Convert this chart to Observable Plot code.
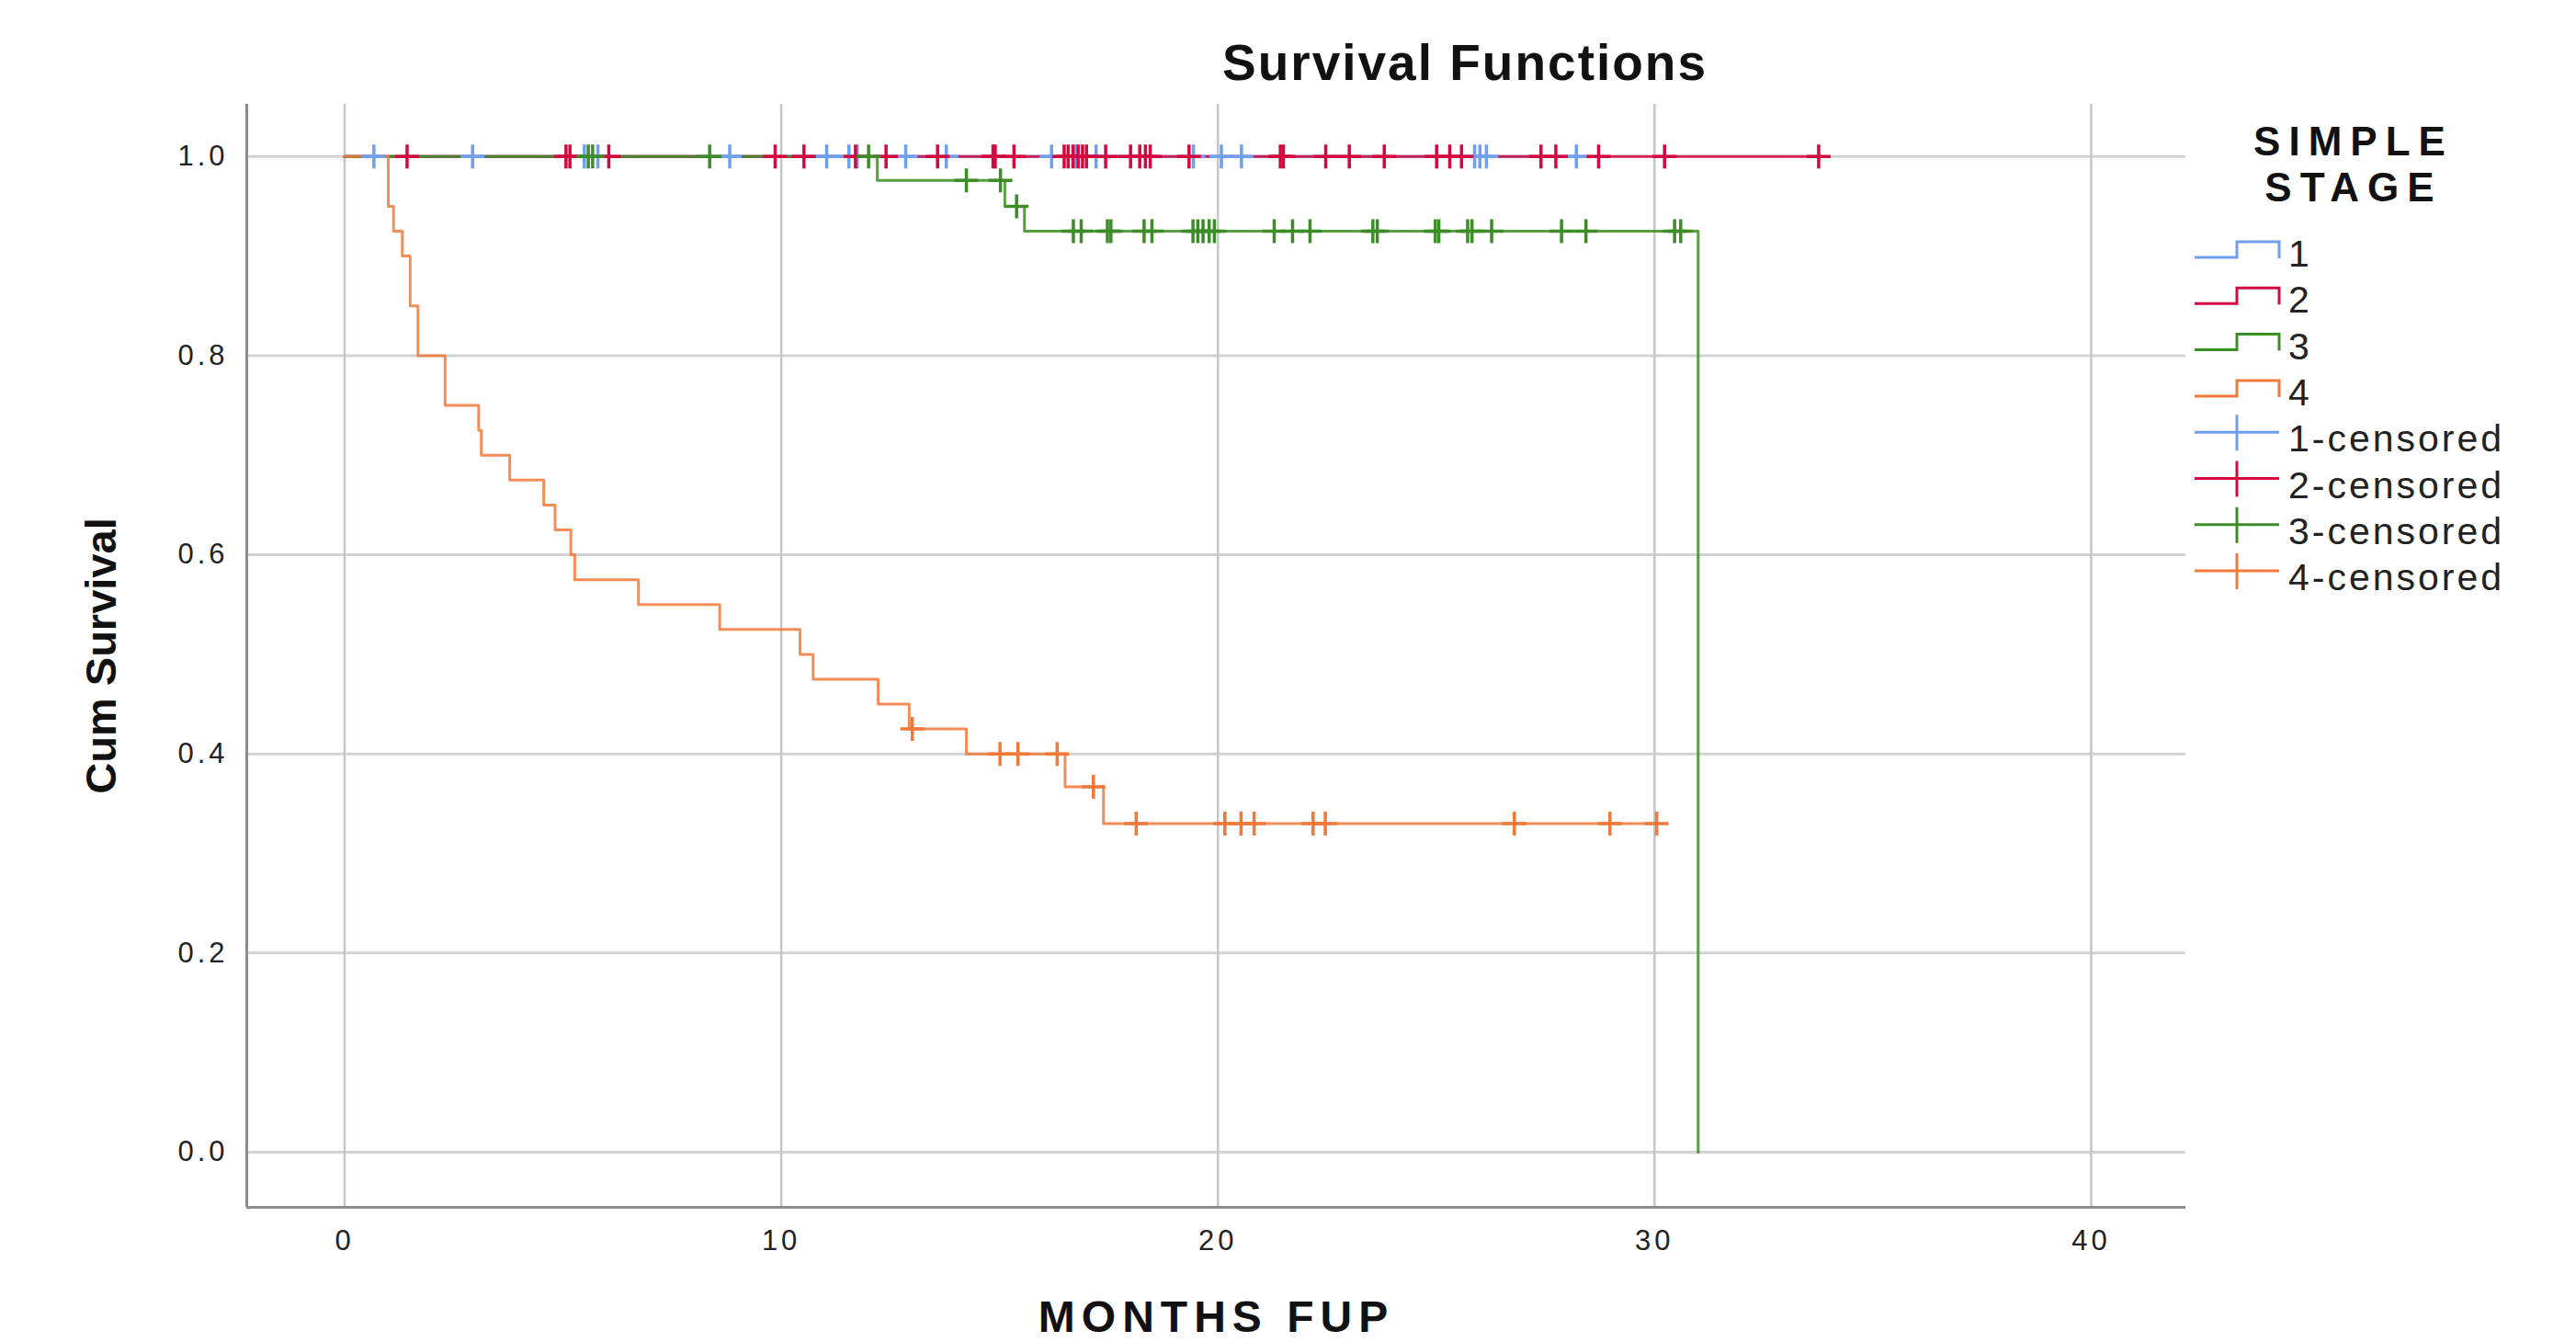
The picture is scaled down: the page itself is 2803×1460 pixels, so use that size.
<!DOCTYPE html>
<html><head><meta charset="utf-8">
<script src="https://cdn.jsdelivr.net/npm/d3@7"></script>
<script src="https://cdn.jsdelivr.net/npm/@observablehq/plot@0.6"></script>
<style>
html,body{margin:0;padding:0;background:#fff;}
#page{width:2803px;height:1460px;position:relative;overflow:hidden;font-family:"Liberation Sans",Arial,sans-serif;background:#fff;}
#title{height:110px;position:relative;}
#title span{position:absolute;left:1594px;top:41px;transform:translateX(-50%);font-size:55px;font-weight:bold;line-height:55px;letter-spacing:2px;white-space:nowrap;color:#111;}
#row{display:flex;}
#chart{flex:none;width:2380px;}
#legend{flex:none;width:423px;}
</style></head><body>
<div id="page">
  <div id="title"><span id="titleText"></span></div>
  <div id="row"><div id="chart"></div><div id="legend"></div></div>
</div>
<script>
// ---- text ----
const chartTitle = "Survival Functions";
const xLabel = "MONTHS FUP";
const yLabel = "Cum Survival";
const legendTitle = ["SIMPLE", "STAGE"];

// ---- axes ----
const xTicks = [0, 10, 20, 30, 40];
const yTicks = [0, 0.2, 0.4, 0.6, 0.8, 1.0];
const xDomain = [-2.242, 42.17];
const yDomain = [-0.0554, 1.0524];

// ---- series ----
const stages = ["1", "2", "3", "4"];
const stageColors = ["#6e9ff0", "#d3083f", "#3c8d27", "#f0793a"];

// stage 1 (no events)
const stage1Times = [0, 28.21];
const stage1Surv = [1.0, 1.0];
const stage1Censored = [0.67, 2.93, 5.49, 5.80, 8.82, 11.04, 11.55, 11.74, 12.85, 13.78, 16.19, 16.74, 17.21, 19.44, 20.08, 20.54, 25.88, 26.0, 26.15, 28.21];

// stage 2 (no events)
const stage2Times = [0, 33.76];
const stage2Surv = [1.0, 1.0];
const stage2Censored = [1.43, 5.07, 5.16, 6.05, 9.86, 10.52, 11.70, 12.40, 13.58, 14.85, 14.90, 15.33, 16.48, 16.57, 16.68, 16.80, 16.90, 16.99, 17.43, 18.0, 18.21, 18.34, 18.45, 19.34, 21.43, 21.50, 22.47, 23.01, 23.81, 25.01, 25.31, 25.58, 27.40, 27.74, 28.72, 30.23, 33.76];

// stage 3
const stage3Times = [0, 12.2, 15.12, 15.57, 31.0];
const stage3Surv = [1.0, 0.976, 0.950, 0.925, 0.0];
const stage3Censored = [5.58, 5.68, 8.36, 12.0, 14.24, 15.02, 15.39, 16.69, 16.87, 17.47, 17.55, 18.31, 18.49, 19.43, 19.54, 19.66, 19.80, 19.92, 21.29, 21.71, 22.11, 23.55, 23.65, 24.98, 25.06, 25.72, 25.82, 26.27, 27.87, 28.43, 30.46, 30.60];

// stage 4
const stage4Times = [0, 1.0, 1.12, 1.32, 1.50, 1.68, 2.30, 3.07, 3.13, 3.78, 4.56, 4.82, 5.18, 5.27, 6.73, 8.59, 10.43, 10.73, 12.22, 12.93, 14.24, 16.50, 17.38, 30.05];
const stage4Surv = [1.0, 0.95, 0.925, 0.90, 0.85, 0.80, 0.75, 0.725, 0.70, 0.675, 0.65, 0.625, 0.60, 0.575, 0.55, 0.525, 0.50, 0.475, 0.45, 0.425, 0.40, 0.367, 0.330, 0.330];
const stage4Censored = [13.0, 15.01, 15.42, 16.32, 17.15, 18.13, 20.16, 20.53, 20.83, 22.18, 22.46, 26.79, 28.98, 30.05];

const curveTimes = [stage1Times, stage2Times, stage3Times, stage4Times];
const curveSurv = [stage1Surv, stage2Surv, stage3Surv, stage4Surv];
const censoredTimes = [stage1Censored, stage2Censored, stage3Censored, stage4Censored];

function survAt(times, surv, t) {
  let v = surv[0];
  for (let i = 0; i < times.length; i++) if (times[i] <= t) v = surv[i];
  return v;
}

// censor mark: a plus sign
const censorSymbol = {
  draw(context, size) {
    const a = Math.sqrt(size / Math.PI);
    context.moveTo(-a, 0); context.lineTo(a, 0);
    context.moveTo(0, -a); context.lineTo(0, a);
  }
};

const fontFamily = "Liberation Sans, Arial, sans-serif";

const lineMarks = stages.map((s, i) =>
  Plot.line(curveTimes[i], {
    x: curveTimes[i], y: curveSurv[i], curve: "step-after",
    stroke: stageColors[i], strokeWidth: 3, strokeOpacity: 0.85
  })
);
const censorMarks = stages.map((s, i) =>
  Plot.dot(censoredTimes[i], {
    x: d => d, y: d => survAt(curveTimes[i], curveSurv[i], d),
    symbol: censorSymbol, r: 13, stroke: stageColors[i], fill: "none", strokeWidth: 3.5
  })
);

const chart = Plot.plot({
  width: 2380, height: 1350,
  marginLeft: 268, marginRight: 2, marginTop: 3, marginBottom: 147,
  style: {fontFamily: fontFamily, fontSize: "31px", color: "#222", background: "#fff", letterSpacing: "4px"},
  x: {domain: xDomain, ticks: xTicks, tickSize: 0, tickPadding: 24, tickFormat: d3.format("d"), label: null},
  y: {domain: yDomain, ticks: yTicks, tickSize: 0, tickPadding: 20, tickFormat: d3.format(".1f"), label: null},
  marks: [
    Plot.ruleY(yTicks, {stroke: "#d2d2d2", strokeWidth: 3}),
    Plot.ruleX(xTicks, {stroke: "#c6c6c6", strokeWidth: 2.5}),
    Plot.ruleX([xDomain[0]], {stroke: "#8c8c8c", strokeWidth: 3}),
    Plot.ruleY([yDomain[0]], {stroke: "#8c8c8c", strokeWidth: 3}),
    ...lineMarks,
    ...censorMarks,
    Plot.text([xLabel], {text: d => d, frameAnchor: "bottom", dy: 135, fontSize: 48, fontWeight: "bold", fill: "#111"}),
    Plot.text([yLabel], {text: d => d, frameAnchor: "left", textAnchor: "middle", dx: -158, rotate: -90, fontSize: 47, fontWeight: "bold", fill: "#111"})
  ]
});
chart.querySelectorAll("text").forEach(t => {
  if (t.textContent === yLabel) t.style.letterSpacing = "0px";
  if (t.textContent === xLabel) t.style.letterSpacing = "7px";
});
document.getElementById("chart").appendChild(chart);
document.getElementById("titleText").textContent = chartTitle;

// ---- legend ----
const legend = d3.create("svg").attr("width", 423).attr("height", 1350)
  .style("font-family", fontFamily).style("display", "block");
legendTitle.forEach((line, i) => {
  legend.append("text").attr("x", 181).attr("y", 59 + i * 50)
    .attr("text-anchor", "middle").attr("font-size", 44).attr("font-weight", "bold")
    .attr("letter-spacing", "9px").attr("fill", "#111").text(line);
});
const rowStart = 165, rowStep = 50.3;
const legendLabels = [...stages, ...stages.map(s => s + "-censored")];
legendLabels.forEach((label, k) => {
  const i = k % stages.length;
  const c = rowStart + k * rowStep;
  const d = k < stages.length
    ? `M8,${c + 5}H54V${c - 12}H100V${c + 6}`
    : `M8,${c - 6}H100M54,${c - 25}V${c + 14}`;
  legend.append("path").attr("d", d).attr("fill", "none")
    .attr("stroke", stageColors[i]).attr("stroke-width", 3);
  legend.append("text").attr("x", 110).attr("y", c + 15)
    .attr("font-size", 41).attr("letter-spacing", "3px").attr("fill", "#222").text(label);
});
document.getElementById("legend").appendChild(legend.node());
</script>
</body></html>
